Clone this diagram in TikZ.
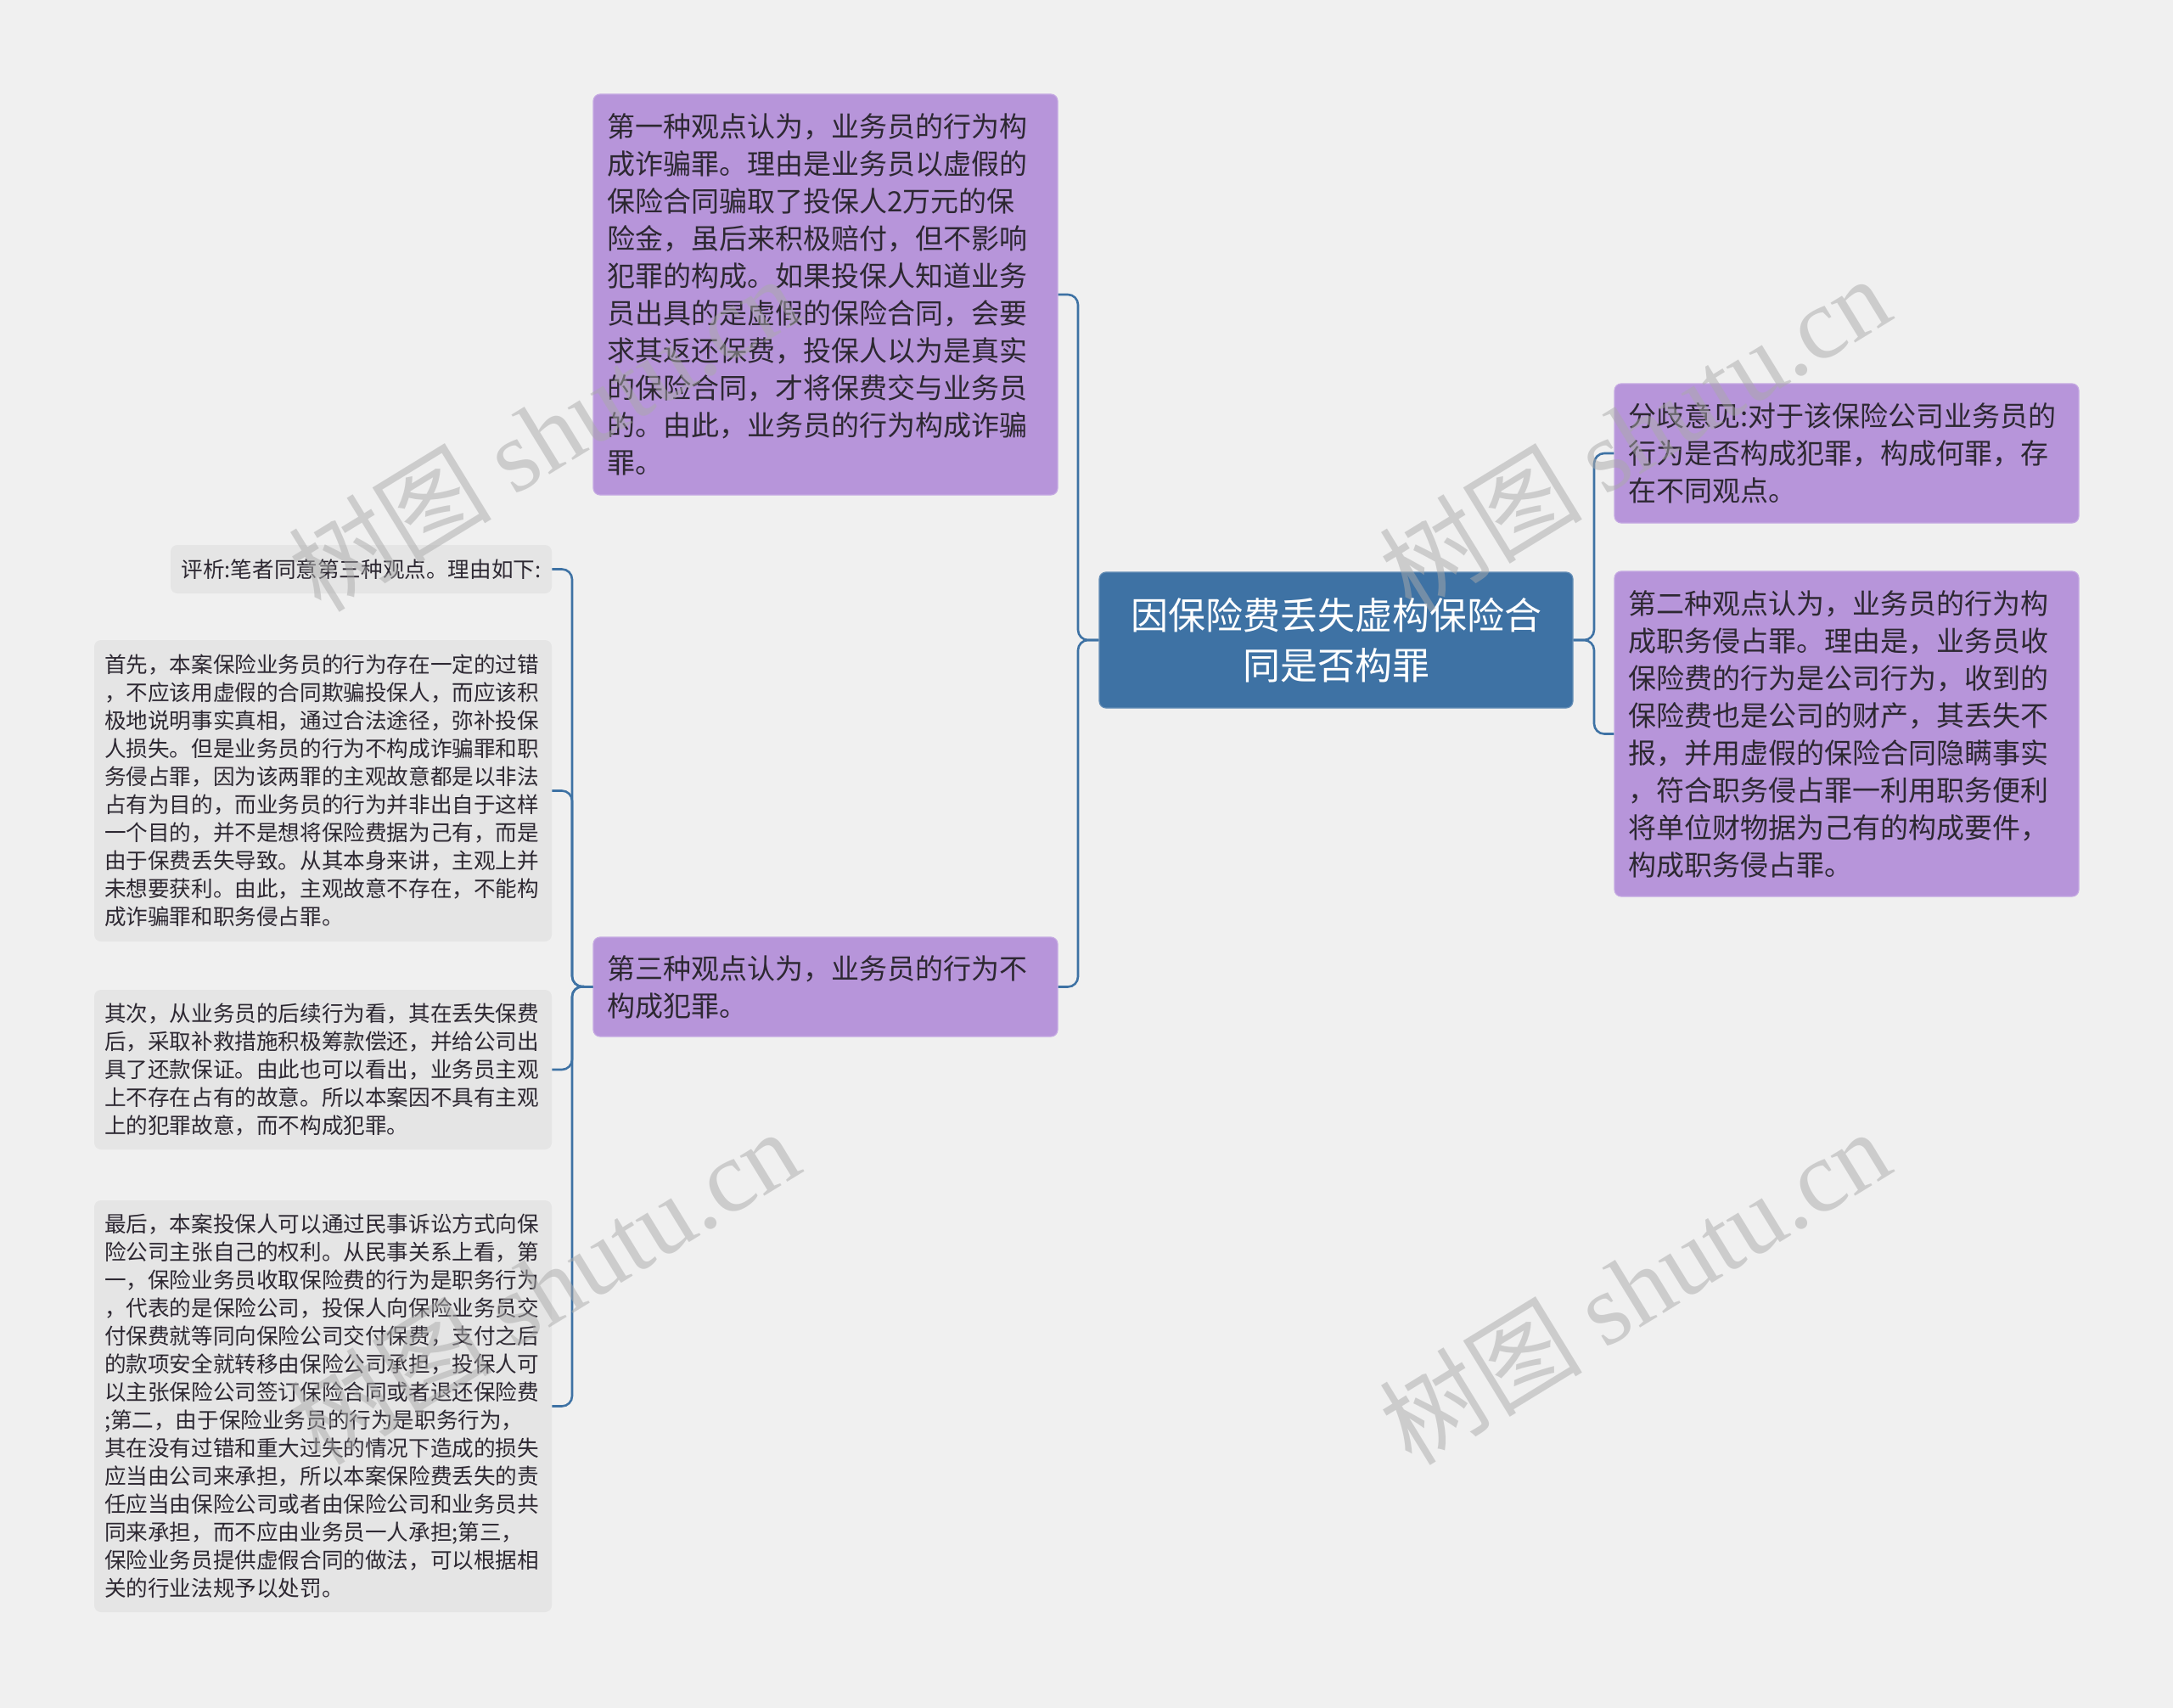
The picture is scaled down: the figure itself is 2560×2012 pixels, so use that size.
\documentclass[tikz,border=0pt]{standalone}
\usepackage{fontspec}
\setmainfont{Noto Sans CJK SC}
\newfontfamily\wmserif{Liberation Serif}
\definecolor{bgc}{RGB}{240,240,240}
\definecolor{bluec}{RGB}{62,114,164}
\definecolor{purplec}{RGB}{183,149,218}
\definecolor{purpleb}{RGB}{196,168,226}
\definecolor{leafc}{RGB}{229,229,229}
\definecolor{txtc}{RGB}{45,40,50}
\definecolor{linec}{RGB}{62,114,164}
\definecolor{wmc}{RGB}{170,170,170}
\tikzset{
  rootbox/.style={draw=bluec!80!white, line width=0.6pt, fill=bluec, rounded corners=4pt, text=white,
    align=center, inner sep=0pt, minimum width=279pt, minimum height=80pt,
    font=\fontsize{22pt}{29.5pt}\selectfont},
  viewbox/.style={draw=purpleb, line width=0.6pt, fill=purplec, rounded corners=4pt, text=txtc,
    align=left, inner xsep=8pt, inner ysep=0pt, text width=257.5pt, minimum width=273.5pt,
    font=\fontsize{16.5pt}{22pt}\selectfont},
  leafbox/.style={fill=leafc, rounded corners=4pt, text=txtc,
    align=left, inner xsep=6pt, inner ysep=0pt, text width=257.5pt, minimum width=269.5pt,
    font=\fontsize{12.8pt}{16.5pt}\selectfont},
  conn/.style={draw=linec, line width=1.3pt, rounded corners=6pt},
  wm/.style={text=wmc, opacity=0.5, rotate=31.5, inner sep=0pt}
}
\begin{document}
\begin{tikzpicture}[x=0.5pt,y=-0.5pt]
\useasboundingbox (0,0) rectangle (2560,2012);
\fill[bgc] (0,0) rectangle (2560,2012);

% connectors
\coordinate (tl) at (1270,754);
\coordinate (tr) at (1878,754);
\coordinate (tk) at (674,1162);

\node[rootbox] (c) at (1574,754) {因保险费丢失虚构保险合\\同是否构罪};

\node[viewbox, minimum height=82pt] (r1) at (2175.5,534) {分歧意见:对于该保险公司业务员的\\行为是否构成犯罪，构成何罪，存\\在不同观点。};
\node[viewbox, minimum height=191.5pt] (r2) at (2175.5,864.5) {第二种观点认为，业务员的行为构\\成职务侵占罪。理由是，业务员收\\保险费的行为是公司行为，收到的\\保险费也是公司的财产，其丢失不\\报，并用虚假的保险合同隐瞒事实\\，符合职务侵占罪一利用职务便利\\将单位财物据为己有的构成要件，\\构成职务侵占罪。};
\node[viewbox, minimum height=236pt] (l1) at (972.5,347) {第一种观点认为，业务员的行为构\\成诈骗罪。理由是业务员以虚假的\\保险合同骗取了投保人2万元的保\\险金，虽后来积极赔付，但不影响\\犯罪的构成。如果投保人知道业务\\员出具的是虚假的保险合同，会要\\求其返还保费，投保人以为是真实\\的保险合同，才将保费交与业务员\\的。由此，业务员的行为构成诈骗\\罪。};
\node[viewbox, minimum height=58.5pt] (l3) at (972.5,1162.5) {第三种观点认为，业务员的行为不\\构成犯罪。};

\node[leafbox, text width=212.5pt, minimum width=224.5pt, align=center, minimum height=28.5pt] (f0) at (425.5,670.5) {评析:笔者同意第三种观点。理由如下:};
\node[leafbox, minimum height=177.5pt] (f1) at (380.5,931.5) {首先，本案保险业务员的行为存在一定的过错\\，不应该用虚假的合同欺骗投保人，而应该积\\极地说明事实真相，通过合法途径，弥补投保\\人损失。但是业务员的行为不构成诈骗罪和职\\务侵占罪，因为该两罪的主观故意都是以非法\\占有为目的，而业务员的行为并非出自于这样\\一个目的，并不是想将保险费据为己有，而是\\由于保费丢失导致。从其本身来讲，主观上并\\未想要获利。由此，主观故意不存在，不能构\\成诈骗罪和职务侵占罪。};
\node[leafbox, minimum height=94pt] (f2) at (380.5,1260) {其次，从业务员的后续行为看，其在丢失保费\\后，采取补救措施积极筹款偿还，并给公司出\\具了还款保证。由此也可以看出，业务员主观\\上不存在占有的故意。所以本案因不具有主观\\上的犯罪故意，而不构成犯罪。};
\node[leafbox, minimum height=242.5pt] (f3) at (380.5,1656.5) {最后，本案投保人可以通过民事诉讼方式向保\\险公司主张自己的权利。从民事关系上看，第\\一，保险业务员收取保险费的行为是职务行为\\，代表的是保险公司，投保人向保险业务员交\\付保费就等同向保险公司交付保费，支付之后\\的款项安全就转移由保险公司承担，投保人可\\以主张保险公司签订保险合同或者退还保险费\\;第二，由于保险业务员的行为是职务行为，\\其在没有过错和重大过失的情况下造成的损失\\应当由公司来承担，所以本案保险费丢失的责\\任应当由保险公司或者由保险公司和业务员共\\同来承担，而不应由业务员一人承担;第三，\\保险业务员提供虚假合同的做法，可以根据相\\关的行业法规予以处罚。};

\draw[conn] (c.west) -- (tl) |- (l1.east);
\draw[conn] (c.west) -- (tl) |- (l3.east);
\draw[conn] (c.east) -- (tr) |- (r1.west);
\draw[conn] (c.east) -- (tr) |- (r2.west);
\draw[conn] (l3.west) -- (tk) |- (f0.east);
\draw[conn] (l3.west) -- (tk) |- (f1.east);
\draw[conn] (l3.west) -- (tk) |- (f2.east);
\draw[conn] (l3.west) -- (tk) |- (f3.east);

% watermarks
\node[wm] (w1) at (640,510) {\fontsize{60pt}{60pt}\selectfont 树图 {\wmserif shutu.cn}};
\node[wm] (w2) at (1925,510) {\fontsize{60pt}{60pt}\selectfont 树图 {\wmserif shutu.cn}};
\node[wm] (w3) at (640,1515) {\fontsize{60pt}{60pt}\selectfont 树图 {\wmserif shutu.cn}};
\node[wm] (w4) at (1925,1515) {\fontsize{60pt}{60pt}\selectfont 树图 {\wmserif shutu.cn}};
\end{tikzpicture}
\end{document}
